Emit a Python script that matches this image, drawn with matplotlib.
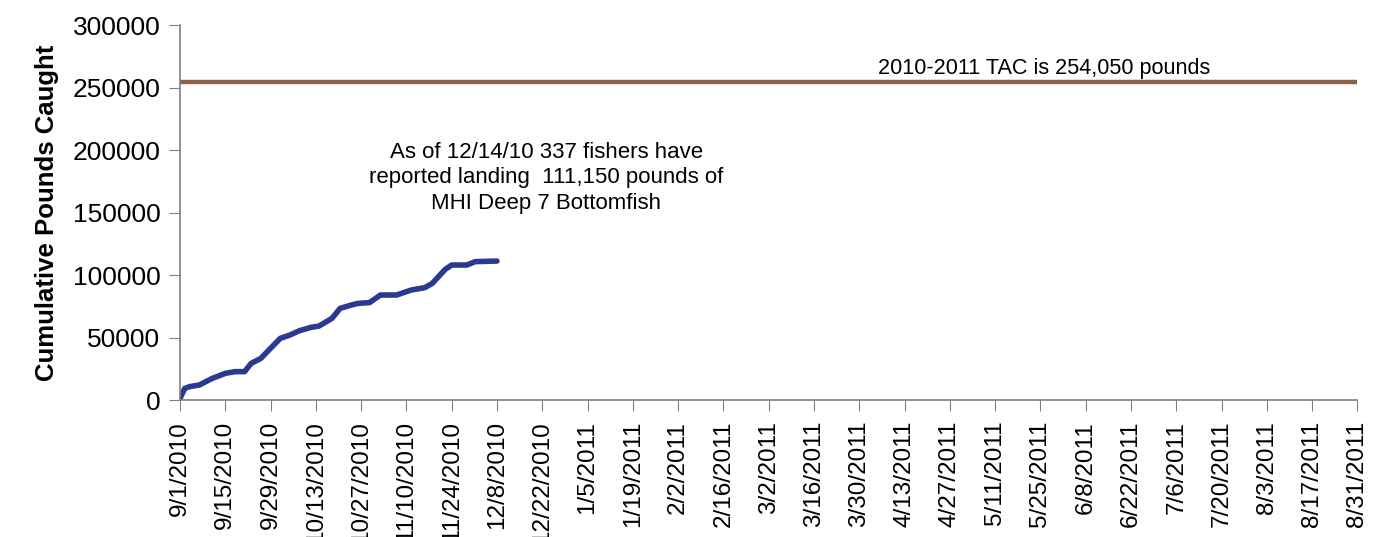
import numpy as np
import matplotlib
matplotlib.use("Agg")
import matplotlib.pyplot as plt

plt.rcParams['font.family'] = ['Liberation Sans', 'DejaVu Sans']

# cumulative catch (days after 9/1/2010)
days = [0, 0.5, 1.5, 3, 6, 8, 10, 14, 17, 20, 22, 25, 28, 31, 34, 37, 40.5, 43,
        47, 49.5, 53, 55, 58.6, 62, 67, 71.5, 75.7, 78, 82, 84, 88.7, 91.3, 98]
pounds = [1000, 4000, 9300, 10700, 12000, 14700, 17300, 21300, 22700, 22700,
          29300, 33300, 41300, 49300, 52000, 55500, 58100, 59200, 65300, 73300,
          76000, 77300, 77900, 84000, 84000, 88000, 89900, 93300, 104500, 108000,
          108000, 110700, 111150]
tac = 254050

start = np.datetime64('2010-09-01')
end = np.datetime64('2011-08-31')
dates = [start + np.timedelta64(int(round(d * 24)), 'h') for d in days]
tick_dates = np.arange(start, end + np.timedelta64(1, 'D'), np.timedelta64(14, 'D'))
tick_labels = [f"{d.month}/{d.day}/{d.year}" for d in tick_dates.astype(object)]

fig = plt.figure(figsize=(13.82, 5.37), dpi=100)
ax = fig.add_axes([0.1302, 0.2551, 0.852, 0.6983])

ax.plot([start, end], [tac, tac], color='#8a6246', lw=3.2)
ax.plot(dates, pounds, color='#2b3990', lw=4, solid_capstyle='round',
        solid_joinstyle='round')

ax.set_xlim(start, end)
ax.set_ylim(0, 300000)
ax.set_yticks(np.arange(0, 300001, 50000))
ax.set_xticks(tick_dates)
ax.set_xticklabels(tick_labels, rotation=90, fontsize=17.5, va='top', ha='center')
ax.tick_params(axis='y', labelsize=19, length=8, color='#808080', pad=6)
ax.tick_params(axis='x', length=8, color='#808080', pad=7)

for s in ['top', 'right']:
    ax.spines[s].set_visible(False)
for s in ['left', 'bottom']:
    ax.spines[s].set_color('#808080')
    ax.spines[s].set_linewidth(1.2)

ax.set_ylabel('Cumulative Pounds Caught', fontsize=18.5, fontweight='bold', labelpad=10)

ax.text(0.734, 0.885, '2010-2011 TAC is 254,050 pounds', transform=ax.transAxes,
        fontsize=15.6, ha='center', va='center')
ax.text(0.311, 0.5923,
        'As of 12/14/10 337 fishers have\nreported landing  111,150 pounds of\nMHI Deep 7 Bottomfish',
        transform=ax.transAxes, fontsize=16, ha='center', va='center', linespacing=1.3)

fig.savefig('out.png', dpi=100)
